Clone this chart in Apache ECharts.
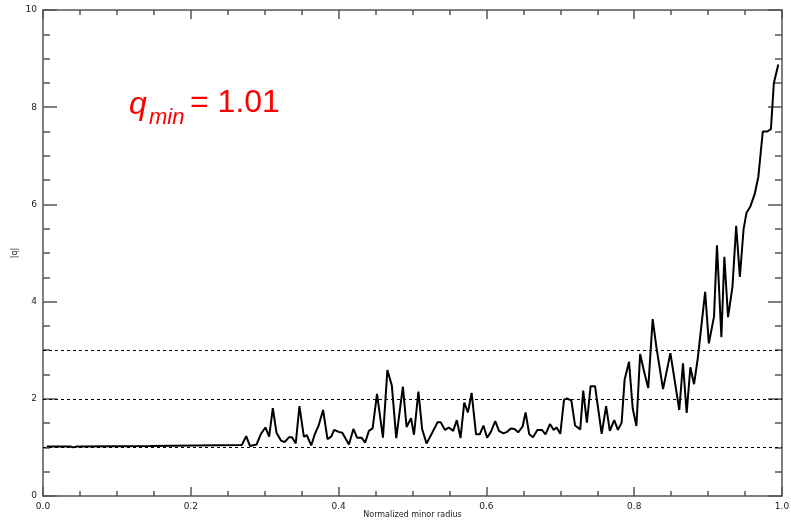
<!DOCTYPE html>
<html>
<head>
<meta charset="utf-8">
<script src="https://cdn.jsdelivr.net/npm/echarts@6/dist/echarts.min.js"></script>
<style>html,body{margin:0;padding:0;background:#fff;}#c{width:791px;height:523px;}</style>
</head>
<body>
<div id="c"></div>
<script>
// Normalized minor radius
var radius = [0.005,0.037,0.041,0.046,0.145,0.147,0.269,
0.275,0.280,0.289,0.295,0.301,0.306,0.311,0.316,0.322,0.327,0.333,0.337,0.342,0.347,0.353,0.357,0.363,0.368,0.373,0.379,0.385,0.390,0.394,0.400,0.405,
0.407,0.414,0.420,0.425,0.431,0.436,0.441,0.446,0.452,0.460,0.466,0.472,0.478,0.487,0.492,0.498,0.502,0.508,0.513,0.519,0.526,0.534,0.538,
0.544,0.549,0.555,0.560,0.565,0.570,0.575,0.580,0.586,0.591,0.596,0.601,0.606,0.612,0.617,0.623,0.628,0.633,0.638,0.643,0.649,0.653,0.658,0.663,0.669,0.675,0.680,0.686,0.691,
0.695,0.700,0.705,0.709,0.715,0.720,0.727,0.731,0.736,0.741,0.747,0.756,0.762,0.767,0.773,0.778,0.783,0.787,0.793,0.798,0.803,0.808,0.814,0.819,0.825,0.830,
0.839,0.849,0.861,0.866,0.871,0.876,0.881,0.886,0.896,0.901,0.908,0.912,0.918,0.922,0.927,0.933,0.938,0.943,0.948,0.952,0.957,0.963,0.968,0.974,0.980,0.985,0.989,0.995];
// |q| values
var qAbs = [1.02,1.02,1.00,1.02,1.03,1.05,1.05,
1.23,1.03,1.06,1.28,1.41,1.22,1.81,1.30,1.14,1.11,1.21,1.21,1.08,1.85,1.22,1.25,1.04,1.28,1.45,1.77,1.17,1.22,1.36,1.32,1.30,
1.28,1.06,1.38,1.20,1.20,1.10,1.34,1.39,2.10,1.20,2.59,2.28,1.19,2.25,1.42,1.60,1.26,2.15,1.38,1.08,1.28,1.52,1.52,
1.36,1.41,1.34,1.56,1.19,1.92,1.72,2.12,1.27,1.27,1.45,1.20,1.32,1.54,1.34,1.29,1.32,1.39,1.38,1.31,1.43,1.72,1.27,1.21,1.36,1.36,1.27,1.48,1.36,
1.41,1.28,1.98,2.01,1.96,1.45,1.37,2.17,1.51,2.26,2.26,1.28,1.85,1.34,1.56,1.36,1.51,2.39,2.76,1.80,1.44,2.92,2.52,2.22,3.64,3.07,
2.20,2.94,1.77,2.73,1.71,2.65,2.30,2.83,4.20,3.14,3.69,5.16,3.27,4.92,3.68,4.31,5.56,4.51,5.49,5.83,5.95,6.21,6.57,7.50,7.50,7.55,8.50,8.88];
var refLevels = [1, 2, 3];
var xTicks = [0, 1, 0.2];   // min, max, interval
var yTicks = [0, 10, 2];
var annotation = {sym: 'q', sub: 'min', rest: '= 1.01'};

var pts = radius.map(function (r, i) { return [r, qAbs[i]]; });
var axisCol = '#555';
var lblFont = 'DejaVu Sans';

function xAx(pos, showLbl) {
  return {
    type: 'value', position: pos, min: xTicks[0], max: xTicks[1], interval: xTicks[2],
    name: showLbl ? 'Normalized minor radius' : '', nameLocation: 'middle', nameGap: 15,
    nameMoveOverlap: false,
    nameTextStyle: {fontFamily: lblFont, fontSize: 8, color: '#222'},
    axisLine: {show: true, onZero: false, lineStyle: {color: axisCol, width: 1.5}},
    axisTick: {show: true, inside: true, length: 9, lineStyle: {color: axisCol, width: 1.5}},
    minorTick: {show: true, splitNumber: 4, length: 5, lineStyle: {color: axisCol, width: 1.5}},
    axisLabel: {show: showLbl, margin: 6, fontFamily: lblFont, fontSize: 9, color: '#222',
      formatter: function (v) { return v.toFixed(1); }},
    splitLine: {show: false}
  };
}
function yAx(pos, showLbl) {
  return {
    type: 'value', position: pos, min: yTicks[0], max: yTicks[1], interval: yTicks[2],
    name: showLbl ? '|q|' : '', nameLocation: 'middle', nameGap: 24,
    nameMoveOverlap: false,
    nameTextStyle: {fontFamily: lblFont, fontSize: 8, color: '#222'},
    axisLine: {show: true, onZero: false, lineStyle: {color: axisCol, width: 1.5}},
    axisTick: {show: true, inside: true, length: 14, lineStyle: {color: axisCol, width: 1.5}},
    minorTick: {show: true, splitNumber: 4, length: 7, lineStyle: {color: axisCol, width: 1.5}},
    axisLabel: {show: showLbl, margin: 6, fontFamily: lblFont, fontSize: 9, color: '#222'},
    splitLine: {show: false}
  };
}

var chart = echarts.init(document.getElementById('c'), null, {renderer: 'canvas'});
chart.setOption({
  animation: false,
  backgroundColor: '#fff',
  grid: {left: 43, right: 9, top: 10, bottom: 27, containLabel: false, outerBoundsMode: 'none'},
  xAxis: [xAx('bottom', true), xAx('top', false)],
  yAxis: [yAx('left', true), yAx('right', false)],
  series: [{
    type: 'line', data: pts, showSymbol: false, symbol: 'none',
    lineStyle: {color: '#000', width: 2}, z: 3,
    markLine: {
      silent: true, symbol: 'none', label: {show: false},
      lineStyle: {color: '#000', width: 1, type: [3, 3]},
      data: refLevels.map(function (v) { return {yAxis: v}; })
    }
  }],
  graphic: [
    {type: 'text', left: 129, top: 89, style: {text: annotation.sym, font: 'italic 32px "Liberation Sans"', fill: '#ff0000'}},
    {type: 'text', left: 149, top: 107, style: {text: annotation.sub, font: 'italic 22px "Liberation Sans"', fill: '#ff0000'}},
    {type: 'text', left: 190, top: 87, style: {text: annotation.rest, font: '32px "Liberation Sans"', fill: '#ff0000'}}
  ]
});
</script>
</body>
</html>
